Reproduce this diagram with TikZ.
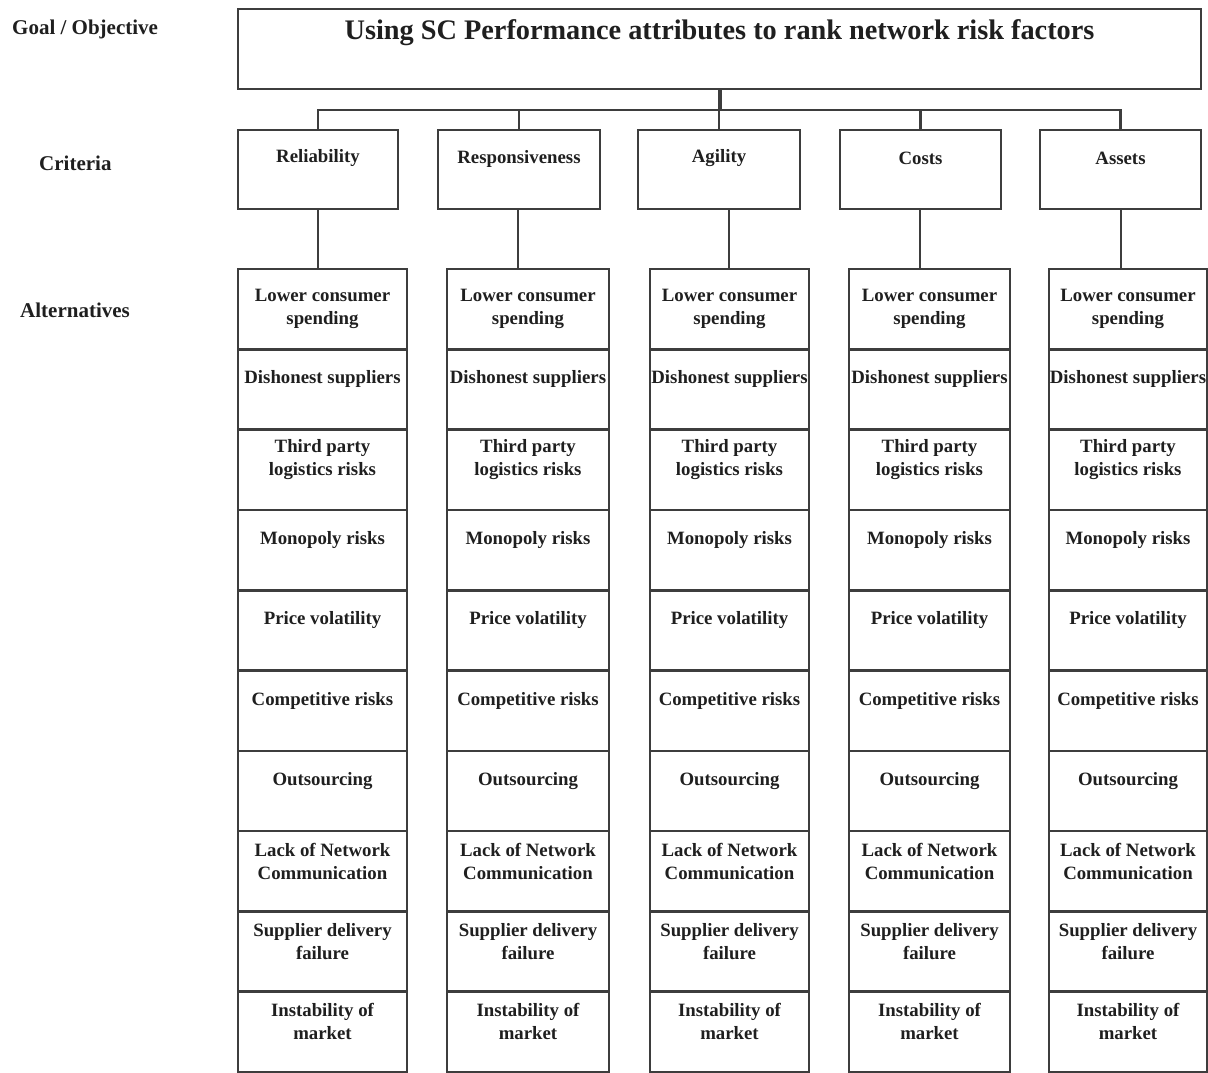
\documentclass[tikz,border=0pt]{standalone}
\usepackage{fontspec}
\setmainfont{Liberation Serif}
\begin{document}
\begin{tikzpicture}[x=1pt,y=-1pt,
  box/.style={draw=black!76, line width=2.6pt, fill=white, inner sep=0pt, outer sep=0pt, anchor=north west},
  wire/.style={draw=black!76, line width=2.6pt},
  celltext/.style={font=\bfseries\fontsize{18.8}{23}\selectfont, align=center, text=black!88, inner sep=0pt},
  crittext/.style={font=\bfseries\fontsize{18.8}{23}\selectfont, align=center, text=black!88, inner sep=0pt},
  sidetext/.style={font=\bfseries\fontsize{21}{24}\selectfont, text=black!88, inner sep=0pt},
  titletext/.style={font=\bfseries\fontsize{28.3}{32}\selectfont, text=black!88, inner sep=0pt}]
\useasboundingbox[fill=white] (0,0) rectangle (1208,1073);

% level labels
\node[sidetext, anchor=west] (lgoal) at (12,29) {Goal / Objective};
\node[sidetext, anchor=west] (lcrit) at (39,163) {Criteria};
\node[sidetext, anchor=west] (lalt)  at (20,310) {Alternatives};

% goal
\node[box, minimum width=963pt, minimum height=80pt] (goal) at (238,9) {};
\node[titletext] (goaltext) at (719.5,33) {Using SC Performance attributes to rank network risk factors};

% bus from goal to criteria
\coordinate (bus) at (720,110);
\draw[wire, line width=3.4pt] (goal.south -| bus) -- (bus);

% criteria and alternatives, one column each
\foreach \c/\xa/\xb/\xc/\xd/\lx/\name in {
  1/238/398/238/407/318/Reliability,
  2/438/600/447/609/518/Responsiveness,
  3/638/800/650/809/729/Agility,
  4/840/1001/849/1010/920/Costs,
  5/1040/1201/1049/1207/1121/Assets}{
  \pgfmathsetmacro{\cw}{\xb-\xa}
  \pgfmathsetmacro{\aw}{\xd-\xc}
  \node[box, minimum width=\cw pt, minimum height=79pt] (c\c) at (\xa,130) {};
  \node[crittext] (ct\c) at ([yshift=-28.5pt]c\c.north) {\name};
  \coordinate (drop\c) at (\lx,0);
  \foreach \r/\txt/\off in {
    1/{Lower consumer\\spending}/40,
    2/{Dishonest suppliers}/30,
    3/{Third party\\logistics risks}/30,
    4/{Monopoly risks}/30,
    5/{Price volatility}/30,
    6/{Competitive risks}/30,
    7/{Outsourcing}/30,
    8/{Lack of Network\\Communication}/30,
    9/{Supplier delivery\\failure}/30,
    10/{Instability of\\market}/30}{
    \pgfmathsetmacro{\ry}{269+(\r-1)*80.3}
    \node[box, minimum width=\aw pt, minimum height=80.3pt] (a\c-\r) at (\xc,\ry) {};
    \node[celltext] (at\c-\r) at ([yshift=-\off pt]a\c-\r.north) {\txt};
  }
  \draw[wire] (c\c.south -| drop\c) -- (a\c-1.north -| drop\c);
}

% horizontal bus and drops into criteria
\draw[wire] (c1.north) |- (bus) -| (c5.north);
\draw[wire] (c2.north) -- (c2.north |- bus);
\draw[wire] (c3.north) -- (c3.north |- bus);
\draw[wire] (c4.north) -- (c4.north |- bus);
\end{tikzpicture}
\end{document}
